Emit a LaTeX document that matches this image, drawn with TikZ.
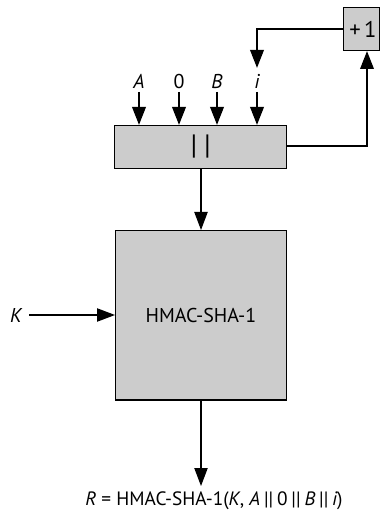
\documentclass[tikz,border=0pt]{standalone}
\usepackage{fontspec}
\setmainfont{PT Sans}
\usetikzlibrary{arrows.meta}
\begin{document}
\begin{tikzpicture}[x=0.75pt,y=-0.75pt,
  box/.style={draw=black,fill=gray!40,line width=1pt,inner sep=0pt,anchor=north west},
  tip/.style={-{Triangle[length=13.5pt,width=10pt]}},
  thick arrow/.style={line width=1.9pt,tip},
  thin arrow/.style={line width=0.8pt,tip},
  lbl/.style={font=\fontsize{15}{18}\selectfont,inner sep=0pt}]
\useasboundingbox (0,0) rectangle (379,516);
% boxes
\node[box,minimum width=129pt,minimum height=32pt] (cat) at (114,125) {};
\node[lbl,font=\fontsize{21}{24}\selectfont] at (cat.center) {|\kern5pt|};
\node[box,minimum width=27pt,minimum height=32pt] (inc) at (343,7) {};
\node[lbl,font=\fontsize{17}{20}\selectfont,anchor=center] at ([xshift=1pt]inc.center) {+\kern2.5pt1};
\node[box,minimum width=128pt,minimum height=127pt] (hmac) at (115,230) {};
\node[lbl] at (hmac.center) {HMAC-SHA-1};
% inputs
\node[lbl] (a) at (139,81.5) {\itshape A};
\node[lbl] (z) at (179,81.5) {0};
\node[lbl] (b) at (217,81.5) {\itshape B};
\node[lbl] (i) at (257,81.5) {\itshape i};
\foreach \n/\x in {a/139,z/179,b/217,i/257}{
  \coordinate (s\n) at (\x,92);
  \draw[thick arrow] (s\n) -- (s\n |- cat.north);
}
% feedback
\coordinate (fbtop) at (257,29);
\coordinate (fbend) at (257,68);
\draw[thick arrow] (inc.west |- fbtop) -- (fbtop) -- (fbend);
\coordinate (rc) at (367,146);
\draw[thick arrow] (cat.east |- rc) -- (rc) -- (rc |- inc.south);
% cat to hmac
\coordinate (mid) at (201,0);
\draw[thin arrow] (cat.south -| mid) -- (hmac.north -| mid);
% K
\node[lbl] (k) at (16,315) {\itshape K};
\coordinate (ks) at (29,315);
\draw[thin arrow] (ks) -- (hmac.west |- ks);
% output
\node[lbl,font=\fontsize{14.5}{18}\selectfont] (r) at (214,501) {\itshape R\upshape\ = HMAC-SHA-1(\itshape K\upshape, \itshape A\upshape\hspace{0.2em}||\hspace{0.2em}0\hspace{0.2em}||\hspace{0.2em}\itshape B\upshape\hspace{0.2em}||\hspace{0.2em}\itshape i\upshape)};
\coordinate (ot) at (201,486);
\draw[thin arrow] (hmac.south -| ot) -- (ot);
\end{tikzpicture}
\end{document}
